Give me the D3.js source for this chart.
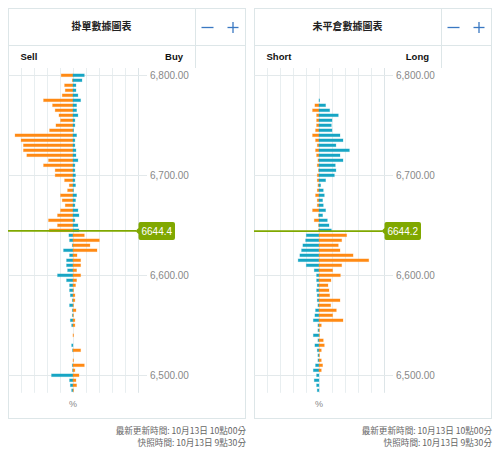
<!DOCTYPE html>
<html><head><meta charset="utf-8">
<script src="https://cdn.jsdelivr.net/npm/d3@7"></script>
<style>
html,body{margin:0;padding:0;background:#fff;}
svg{display:block;font-family:"Liberation Sans",Arial,sans-serif;}
</style></head>
<body>
<svg id="c" width="500" height="456"></svg>
<script>
const prices = [6800,6795,6790,6785,6780,6775,6770,6765,6760,6755,6750,6745,6740,6735,6730,6725,6720,6715,6710,6705,6700,6695,6690,6685,6680,6675,6670,6665,6660,6655,6650,6645,6640,6635,6630,6625,6620,6615,6610,6605,6600,6595,6590,6585,6580,6575,6570,6565,6560,6555,6550,6545,6540,6535,6530,6525,6520,6515,6510,6505,6500,6495,6490,6485];

const orderOrange = [0.90,0.05,0.64,0.59,0.82,2.25,1.56,1.36,1.07,0.95,1.30,1.79,4.43,3.97,3.79,3.79,3.53,1.87,2.25,1.36,1.36,0.64,0.28,0.41,0.95,0.82,0.59,0.95,1.18,1.87,1.18,1.82,0.87,2.02,1.30,1.84,0.31,0.59,0.59,0.28,0.59,0.28,0.20,0.05,0.15,0.15,0.03,0.23,0.02,0.15,0.15,0,0.05,0,0,0.59,0,0.05,0.87,0.15,0.46,0.23,0.28,0.03];
const orderTeal = [0.87,0.69,0.23,0.23,0.38,0.59,0.28,0.28,0.38,0.15,0.15,0.05,0.28,0.15,0.15,0.23,0.23,0.38,0.15,0.15,0.20,0.15,0.20,0.03,0.28,0.20,0.15,0.38,0.46,0.15,0.38,0.46,0.31,0.26,0.05,0.72,0.26,0.49,0.49,0.41,1.18,0.49,0.26,0.26,0.20,0.05,0.26,0.05,0.05,0.20,0.10,0,0,0,0.10,0.03,0,0,0.05,0.03,1.64,0.26,0.20,0.10];

const posOrange = [0,0,0,0,0,0,0.31,0.49,0.18,0.18,0.18,0.26,0.49,0.26,0.13,0.26,0.18,0.08,0.13,0.03,0.13,0.13,0.08,0.13,0.26,0.13,0.13,0.49,0.03,0.36,0.03,0.03,2.12,1.74,1.48,1.61,2.61,3.81,1.74,1.05,1.64,0.92,0.69,0.77,0.82,1.61,0.90,1.33,1.05,1.84,0.18,0.03,0.03,0.33,0.41,0.18,0.03,0.18,0.28,0.18,0,0,0,0];
const posTeal = [0,0,0,0,0,0.05,0.51,0.82,1.48,1.00,0.95,1.00,1.61,1.84,1.30,2.33,1.61,1.84,1.25,1.30,1.18,0.51,0.13,0.33,0.41,0.28,0.33,0.51,0.28,0.64,0.77,0.95,0.97,1.02,1.23,1.33,1.46,1.59,0.97,0.36,0.18,0.18,0.13,0.18,0.13,0.13,0.08,0.26,0.31,0.43,0.08,0.08,0.43,0.08,0.31,0.13,0.08,0.08,0.26,0.43,0.18,0.36,0.18,0.13];

const priceTicks = [6800,6700,6600,6500];
const gridValues = [-4,-3,-2,-1,0,1,2,3,4,5];

const panels = [
  {ox:8, title:"掛單數據圖表", leftLabel:"Sell", rightLabel:"Buy", current:6644.4, orange:orderOrange, teal:orderTeal,
   foot1:"最新更新時間: 10月13日 10點00分", foot2:"快照時間: 10月13日 9點30分"},
  {ox:254, title:"未平倉數據圖表", leftLabel:"Short", rightLabel:"Long", current:6644.2, orange:posOrange, teal:posTeal,
   foot1:"最新更新時間: 10月13日 10點00分", foot2:"快照時間: 10月13日 9點30分"}
];

const ORANGE = "#ff8a14", TEAL = "#17a5c4", GREEN = "#80a800", BORDER = "#dde6e8", GRID = "#e8eef0";
const CJK = "'Noto Sans CJK TC','Noto Sans CJK SC',sans-serif";

const svg = d3.select("#c");
const y = d3.scaleLinear().domain([6807.5, 6482.5]).range([67.8, 392.8]);

panels.forEach(p => {
  const ox = p.ox;
  const g = svg.append("g");
  const x = d3.scaleLinear().domain([-5,5]).range([ox-0.4, ox+130.3]);

  // frame
  g.append("rect").attr("x",ox+0.5).attr("y",8.5).attr("width",237).attr("height",410)
    .attr("fill","#fff").attr("stroke",BORDER);
  g.append("line").attr("x1",ox).attr("x2",ox+238).attr("y1",45.5).attr("y2",45.5).attr("stroke",BORDER);
  g.append("line").attr("x1",ox+187.5).attr("x2",ox+187.5).attr("y1",8).attr("y2",68).attr("stroke",BORDER);

  g.append("text").attr("x",ox+93.5).attr("y",30).attr("text-anchor","middle")
    .style("font-family",CJK).style("font-size","10px").style("font-weight","bold").attr("fill","#222").text(p.title);
  g.append("line").attr("x1",ox+193.5).attr("x2",ox+205.5).attr("y1",27.5).attr("y2",27.5)
    .attr("stroke","#3a78c2").attr("stroke-width",1.3);
  g.append("line").attr("x1",ox+219.5).attr("x2",ox+230.5).attr("y1",27.5).attr("y2",27.5)
    .attr("stroke","#3a78c2").attr("stroke-width",1.3);
  g.append("line").attr("x1",ox+225).attr("x2",ox+225).attr("y1",22).attr("y2",33)
    .attr("stroke","#3a78c2").attr("stroke-width",1.3);

  g.append("text").attr("x",ox+12.5).attr("y",60).style("font-size","9.5px").style("font-weight","bold").attr("fill","#111").text(p.leftLabel);
  g.append("text").attr("x",ox+175).attr("y",60).attr("text-anchor","end").style("font-size","9.5px").style("font-weight","bold").attr("fill","#111").text(p.rightLabel);

  // vertical grid
  g.selectAll(".vg").data(gridValues).enter().append("line")
    .attr("x1",d=>Math.round(x(d))+0.5).attr("x2",d=>Math.round(x(d))+0.5)
    .attr("y1",68).attr("y2",392.8)
    .attr("stroke",d=>d===5?"#dde5e8":GRID);

  // horizontal grid + labels
  g.selectAll(".hg").data(priceTicks).enter().append("line")
    .attr("x1",ox).attr("x2",ox+139)
    .attr("y1",d=>Math.round(y(d))+0.5).attr("y2",d=>Math.round(y(d))+0.5)
    .attr("stroke","#e3e9eb");
  g.selectAll(".pl").data(priceTicks).enter().append("text")
    .attr("x",ox+142).attr("y",d=>y(d)+3.8)
    .style("font-size","10px").attr("fill","#888")
    .text(d=>d3.format(",.2f")(d));

  // bars
  const rows = prices.map((pr,i)=>({pr, o:p.orange[i], t:p.teal[i], above: pr>p.current}));
  const bh = 2.8;
  const drawBar = (val, sign, col, pr) => {
    if (!val) return;
    const x0 = x(0), x1 = x(sign*val);
    g.append("rect").attr("x",Math.min(x0,x1)).attr("width",Math.max(0.6,Math.abs(x1-x0)))
      .attr("y",y(pr)-bh/2).attr("height",bh)
      .attr("fill",col).attr("stroke",col).attr("stroke-opacity",0.3).attr("stroke-width",0.8);
  };
  rows.forEach(r => {
    if (r.above) { drawBar(r.o,-1,ORANGE,r.pr); drawBar(r.t,1,TEAL,r.pr); }
    else { drawBar(r.t,-1,TEAL,r.pr); drawBar(r.o,1,ORANGE,r.pr); }
  });

  // current price line and marker
  const cy = y(p.current);
  g.append("line").attr("x1",ox).attr("x2",ox+128).attr("y1",cy).attr("y2",cy)
    .attr("stroke",GREEN).attr("stroke-width",1.6);
  const bx = ox+130.5, bw = 36.5, bhh = 9;
  g.append("path").attr("d",
    `M${ox+127.5},${cy} L${bx},${cy-3} L${bx},${cy-bhh+2} Q${bx},${cy-bhh} ${bx+2},${cy-bhh} L${bx+bw-2},${cy-bhh} Q${bx+bw},${cy-bhh} ${bx+bw},${cy-bhh+2} L${bx+bw},${cy+bhh-2} Q${bx+bw},${cy+bhh} ${bx+bw-2},${cy+bhh} L${bx+2},${cy+bhh} Q${bx},${cy+bhh} ${bx},${cy+bhh-2} L${bx},${cy+3} Z`)
    .attr("fill",GREEN);
  g.append("text").attr("x",bx+bw/2).attr("y",cy+3.6).attr("text-anchor","middle")
    .style("font-size","10px").attr("fill","#fff").text(p.current.toFixed(1));

  g.append("text").attr("x",x(0)).attr("y",407).attr("text-anchor","middle")
    .style("font-size","9px").attr("fill","#888").text("%");

  g.append("text").attr("x",ox+238).attr("y",434).attr("text-anchor","end")
    .style("font-family",CJK).style("font-size","8.6px").attr("fill","#666").text(p.foot1);
  g.append("text").attr("x",ox+238).attr("y",445.5).attr("text-anchor","end")
    .style("font-family",CJK).style("font-size","8.6px").attr("fill","#666").text(p.foot2);
});
</script>
</body></html>
